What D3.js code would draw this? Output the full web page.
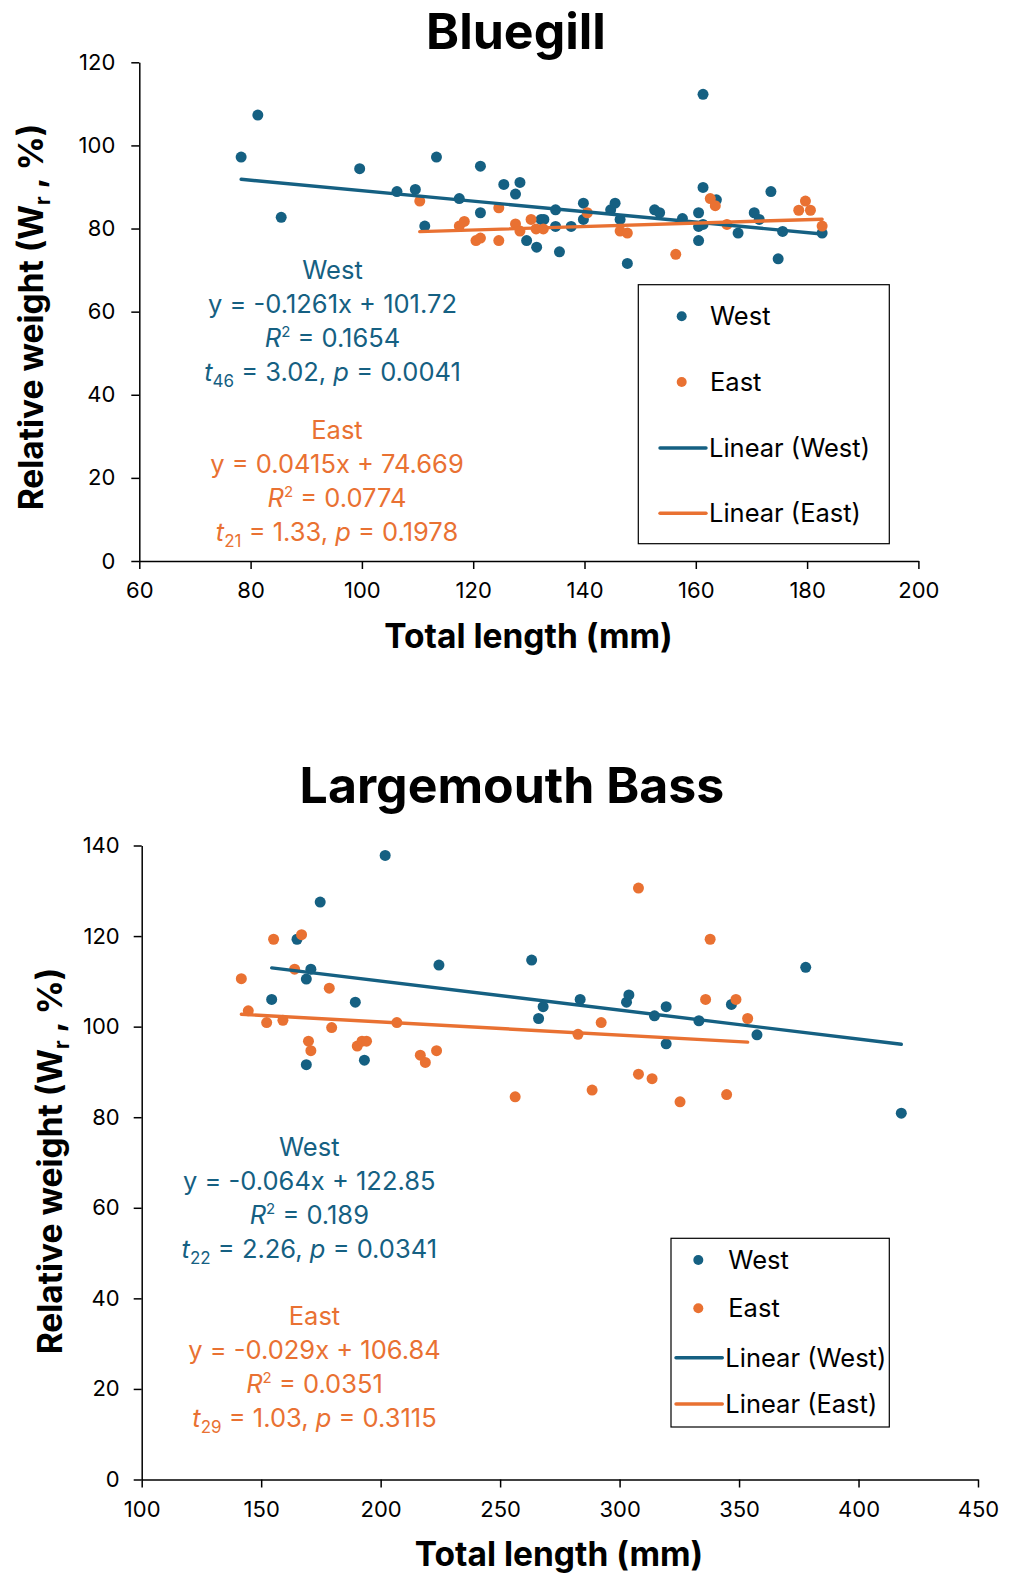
<!DOCTYPE html>
<meta charset="utf-8">
<html>
<script src="https://d3js.org/d3.v7.min.js"></script>
<style>
  body { margin: 0; background: #fff; }
  text { font-family: Inter, "Open Sans", sans-serif; }
</style>
<div id="chart"></div>
<script>

// ---- Bluegill: total length (mm) and relative weight (%) ----
var bgWestLen = [78.3, 81.3, 85.5, 99.6, 106.3, 109.6, 111.3, 113.4, 117.5, 121.3, 121.3, 125.5, 127.6, 128.4, 129.6,
                 131.4, 132.2, 132.7, 134.8, 134.8, 135.5, 137.6, 139.8, 139.8, 144.7, 145.5, 146.4, 147.7, 152.6, 153.5,
                 157.6, 160.5, 160.5, 160.5, 161.3, 161.3, 161.3, 163.7, 167.6, 170.5, 171.4, 173.5, 174.8, 175.6, 182.7];
var bgWestWr  = [97.2, 107.3, 82.7, 94.4, 88.9, 89.4, 80.6, 97.2, 87.2, 95.0, 83.8, 90.6, 88.3, 91.1, 77.1,
                 75.5, 82.2, 82.2, 84.5, 80.5, 74.4, 80.5, 86.1, 82.2, 84.5, 86.1, 82.2, 71.6, 84.5, 83.8,
                 82.4, 83.8, 80.5, 77.1, 112.3, 89.9, 81.0, 86.9, 78.9, 83.8, 82.2, 88.9, 72.7, 79.3, 78.9];
var bgEastLen = [110.4, 117.5, 118.4, 120.5, 121.3, 124.6, 124.6, 127.6, 128.4, 130.4, 131.3, 132.6, 140.5, 146.4,
                 147.7, 156.4, 162.6, 163.5, 165.6, 178.5, 179.7, 180.6, 182.7];
var bgEastWr  = [86.6, 80.6, 81.7, 77.1, 77.7, 85.0, 77.1, 81.1, 79.4, 82.2, 79.9, 79.9, 83.8, 79.4,
                 78.9, 73.8, 87.2, 85.5, 81.0, 84.4, 86.6, 84.4, 80.6];
var bgWestFit = [-0.1261, 101.72];   // slope, intercept
var bgEastFit = [0.0415, 74.669];
var bgXTicks = [60, 80, 100, 120, 140, 160, 180, 200];
var bgYTicks = [0, 20, 40, 60, 80, 100, 120];
var bgWestStats = ["-0.1261x + 101.72", "0.1654", "46", "3.02", "0.0041"];
var bgEastStats = ["0.0415x + 74.669", "0.0774", "21", "1.33", "0.1978"];

// ---- Largemouth Bass ----
var lmbWestLen = [154.4, 165.0, 168.9, 168.9, 170.8, 174.7, 189.4, 193.2, 201.9, 224.4, 263.2, 266.1,
                  268.0, 283.5, 302.9, 303.9, 314.6, 319.5, 319.5, 333.2, 346.8, 357.5, 377.9, 417.9];
var lmbWestWr  = [106.0, 119.3, 110.5, 91.6, 112.7, 127.5, 105.4, 92.6, 137.8, 113.6, 114.7, 101.8,
                  104.4, 106.0, 105.4, 107.0, 102.4, 104.4, 96.2, 101.3, 104.9, 98.2, 113.1, 80.9];
var lmbEastLen = [141.7, 144.6, 152.3, 155.2, 159.1, 164.0, 166.9, 169.8, 170.8, 178.5, 179.5, 190.2, 192.2,
                  194.1, 206.8, 216.6, 218.7, 223.4, 256.3, 282.6, 288.5, 292.3, 307.9, 307.9, 313.6, 325.3,
                  336.0, 337.9, 344.8, 348.7, 353.6];
var lmbEastWr  = [110.6, 103.5, 100.9, 119.3, 101.4, 112.7, 120.3, 96.8, 94.7, 108.5, 99.8, 95.7, 96.8,
                  96.8, 100.9, 93.7, 92.1, 94.7, 84.5, 98.3, 86.0, 100.9, 130.6, 89.5, 88.5, 83.4,
                  106.0, 119.3, 85.0, 106.0, 101.8];
var lmbWestFit = [-0.064, 122.85];
var lmbEastFit = [-0.029, 106.84];
var lmbXTicks = [100, 150, 200, 250, 300, 350, 400, 450];
var lmbYTicks = [0, 20, 40, 60, 80, 100, 120, 140];
var lmbWestStats = ["-0.064x + 122.85", "0.189", "22", "2.26", "0.0341"];
var lmbEastStats = ["-0.029x + 106.84", "0.0351", "29", "1.03", "0.3115"];

var blue = "#156082",
    orange = "#E97132";

var svg = d3.select("#chart")
  .append("svg")
    .attr("width", 1010)
    .attr("height", 1576);

function drawPanel(p) {
  var g = svg.append("g");

  var x = d3.scaleLinear().domain(p.xDomain).range([p.left, p.right]);
  var y = d3.scaleLinear().domain(p.yDomain).range([p.bottom, p.top]);

  // axes
  var xAxis = g.append("g")
    .attr("transform", "translate(0," + p.bottom + ")")
    .call(d3.axisBottom(x).tickValues(p.xTicks).tickSize(8).tickSizeOuter(0).tickPadding(p.xPad));
  var yAxis = g.append("g")
    .attr("transform", "translate(" + p.left + ",0)")
    .call(d3.axisLeft(y).tickValues(p.yTicks).tickSize(8).tickSizeOuter(0).tickPadding(p.yPad));
  [xAxis, yAxis].forEach(function(a) {
    a.select(".domain").attr("stroke", "#000").attr("stroke-width", 1.5);
    a.selectAll(".tick line").attr("stroke", "#000").attr("stroke-width", 1.5);
    a.selectAll(".tick text").attr("fill", "#000").style("font-size", "22px").style("font-family", "Inter");
  });

  // points
  var series = [
    {len: p.westLen, wr: p.westWr, color: blue},
    {len: p.eastLen, wr: p.eastWr, color: orange}
  ];
  series.forEach(function(s) {
    g.append("g").selectAll("circle")
      .data(d3.range(s.len.length))
      .enter().append("circle")
        .attr("cx", function(i) { return x(s.len[i]); })
        .attr("cy", function(i) { return y(s.wr[i]); })
        .attr("r", 5.5)
        .attr("fill", s.color);
  });

  // linear trendlines
  var line = d3.line().x(function(d) { return x(d[0]); }).y(function(d) { return y(d[1]); });
  [[p.westLen, p.westFit, blue], [p.eastLen, p.eastFit, orange]].forEach(function(t) {
    var ext = d3.extent(t[0]);
    g.append("path")
      .datum(ext.map(function(v) { return [v, t[1][0] * v + t[1][1]]; }))
      .attr("d", line)
      .attr("fill", "none")
      .attr("stroke", t[2])
      .attr("stroke-width", 3.4)
      .attr("stroke-linecap", "round");
  });

  // title
  g.append("text")
    .attr("x", p.titleX).attr("y", p.titleY)
    .attr("text-anchor", "middle")
    .style("font-size", "50px").style("font-weight", 700)
    .text(p.title);

  // axis titles
  g.append("text")
    .attr("x", p.xTitleX).attr("y", p.xTitleY)
    .attr("text-anchor", "middle")
    .style("font-size", "33.5px").style("font-weight", 700)
    .text("Total length (mm)");
  var yt = g.append("text")
    .attr("transform", "translate(" + p.yTitleX + "," + p.yTitleY + ") rotate(-90)")
    .attr("text-anchor", "middle")
    .style("font-size", "33.5px").style("font-weight", 700);
  yt.append("tspan").text("Relative weight (W");
  yt.append("tspan").attr("dy", 7).style("font-size", "21px").text("r");
  yt.append("tspan").attr("dy", -7).text(" , %)");

  // regression annotations
  [[p.westStats, blue, "West", p.westNoteX, p.westNoteY], [p.eastStats, orange, "East", p.eastNoteX, p.eastNoteY]].forEach(function(n) {
    var st = n[0];
    var t = g.append("g").attr("fill", n[1]).style("font-size", "25.5px");
    t.append("text").attr("x", n[3]).attr("y", n[4]).attr("text-anchor", "middle").text(n[2]);
    t.append("text").attr("x", n[3]).attr("y", n[4] + 34).attr("text-anchor", "middle").text("y = " + st[0]);
    var r2 = t.append("text").attr("x", n[3]).attr("y", n[4] + 68).attr("text-anchor", "middle");
    r2.append("tspan").style("font-style", "italic").text("R");
    r2.append("tspan").attr("dy", -10).style("font-size", "15px").text("2");
    r2.append("tspan").attr("dy", 10).text(" = " + st[1]);
    var tt = t.append("text").attr("x", n[3]).attr("y", n[4] + 102).attr("text-anchor", "middle");
    tt.append("tspan").style("font-style", "italic").text("t");
    tt.append("tspan").attr("dy", 6).style("font-size", "17px").text(st[2]);
    tt.append("tspan").attr("dy", -6).text(" = " + st[3] + ", ");
    tt.append("tspan").style("font-style", "italic").text("p");
    tt.append("tspan").text(" = " + st[4]);
  });

  // legend
  var L = p.legend;
  g.append("rect")
    .attr("x", L.x0).attr("y", L.y0)
    .attr("width", L.x1 - L.x0).attr("height", L.y1 - L.y0)
    .attr("fill", "#fff").attr("stroke", "#000").attr("stroke-width", 1.2);
  var items = [["West", blue, "dot"], ["East", orange, "dot"], ["Linear (West)", blue, "line"], ["Linear (East)", orange, "line"]];
  items.forEach(function(it, i) {
    var cy = L.rows[i];
    if (it[2] == "dot") {
      g.append("circle").attr("cx", L.dotX).attr("cy", cy).attr("r", 5).attr("fill", it[1]);
    } else {
      g.append("line").attr("x1", L.lineX0).attr("x2", L.lineX1).attr("y1", cy).attr("y2", cy)
        .attr("stroke", it[1]).attr("stroke-width", 3.4).attr("stroke-linecap", "round");
    }
    g.append("text")
      .attr("x", it[2] == "dot" ? L.textX : L.lineX1 + 3).attr("y", cy).attr("dy", "0.36em")
      .style("font-size", "25.5px").attr("fill", "#000")
      .text(it[0]);
  });
}

drawPanel({
  title: "Bluegill", titleX: 516, titleY: 49,
  xDomain: [60, 200], yDomain: [0, 120],
  left: 139.3, right: 918.4, top: 62.3, bottom: 561,
  xTicks: bgXTicks, yTicks: bgYTicks, xPad: 13, yPad: 16,
  westLen: bgWestLen, westWr: bgWestWr, eastLen: bgEastLen, eastWr: bgEastWr,
  westFit: bgWestFit, eastFit: bgEastFit,
  westStats: bgWestStats, eastStats: bgEastStats,
  westNoteX: 332.5, westNoteY: 279, eastNoteX: 337, eastNoteY: 439,
  xTitleX: 528.5, xTitleY: 648,
  yTitleX: 43, yTitleY: 317,
  legend: {x0: 638.3, x1: 889.3, y0: 284.7, y1: 543.7, rows: [316.3, 382, 448, 513.3],
           dotX: 681.7, textX: 710, lineX0: 660, lineX1: 706}
});

drawPanel({
  title: "Largemouth Bass", titleX: 512, titleY: 803,
  xDomain: [100, 450], yDomain: [0, 140],
  left: 141.7, right: 978, top: 845.5, bottom: 1479.5,
  xTicks: lmbXTicks, yTicks: lmbYTicks, xPad: 14, yPad: 14,
  westLen: lmbWestLen, westWr: lmbWestWr, eastLen: lmbEastLen, eastWr: lmbEastWr,
  westFit: lmbWestFit, eastFit: lmbEastFit,
  westStats: lmbWestStats, eastStats: lmbEastStats,
  westNoteX: 309.3, westNoteY: 1155.7, eastNoteX: 314.5, eastNoteY: 1325,
  xTitleX: 559, xTitleY: 1566,
  yTitleX: 62, yTitleY: 1161,
  legend: {x0: 671, x1: 889.3, y0: 1238.3, y1: 1427, rows: [1260, 1308.3, 1357.7, 1404],
           dotX: 698.3, textX: 728.3, lineX0: 676, lineX1: 722.3}
});
</script>
</html>
